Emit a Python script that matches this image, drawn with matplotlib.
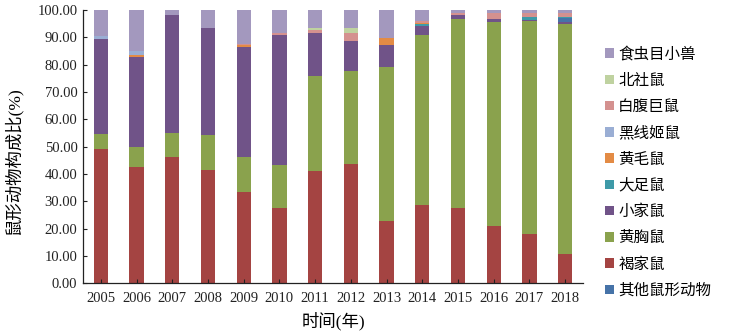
import matplotlib
matplotlib.use("Agg")
import matplotlib.pyplot as plt
import numpy as np
from matplotlib.patches import Patch

plt.rcParams['font.family'] = ['Liberation Serif', 'Noto Sans CJK SC']

years = ['2005', '2006', '2007', '2008', '2009', '2010', '2011',
         '2012', '2013', '2014', '2015', '2016', '2017', '2018']

brown_rat = [49.1, 42.5, 46.4, 41.5, 33.5, 27.6, 41.0, 43.7, 23.0, 28.6, 27.6, 21.0, 18.1, 10.8]
flavipectus = [5.4, 7.5, 8.7, 12.7, 12.6, 15.7, 34.9, 34.0, 56.3, 62.3, 69.1, 74.7, 78.0, 83.9]
house_mouse = [34.9, 32.9, 43.1, 39.1, 40.4, 47.6, 15.7, 11.1, 8.0, 3.4, 1.5, 0.9, 0.2, 1.0]
other_rodents = [0, 0, 0, 0, 0, 0, 0, 0, 0, 0, 0, 0, 0, 1.2]
nitidus = [0, 0, 0, 0, 0, 0, 0, 0, 0, 0.7, 0, 0, 1.1, 0.5]
losea = [0, 0.6, 0, 0, 0.6, 0, 0, 0, 2.4, 0.3, 0, 0, 0, 0]
agrarius = [1.2, 1.6, 0, 0, 0, 0, 0, 0, 0, 0, 0, 0, 0, 0]
edwardsi = [0, 0, 0, 0, 0.6, 0.8, 1.2, 2.9, 0, 0.8, 0.6, 2.2, 1.6, 1.6]
confucianus = [0, 0, 0, 0, 0, 0, 0.6, 1.8, 0, 0, 0, 0, 0, 0]
insectivores = [9.4, 14.9, 1.8, 6.7, 12.3, 8.3, 6.6, 6.5, 10.3, 3.9, 1.2, 1.2, 1.0, 1.0]

# stacking order bottom -> top
series = [
    ('褐家鼠', brown_rat, '#A44442'),
    ('黄胸鼠', flavipectus, '#8AA24D'),
    ('小家鼠', house_mouse, '#705388'),
    ('其他鼠形动物', other_rodents, '#4673A8'),
    ('大足鼠', nitidus, '#3E9AA8'),
    ('黄毛鼠', losea, '#E38B45'),
    ('黑线姬鼠', agrarius, '#9AAED4'),
    ('白腹巨鼠', edwardsi, '#D4918F'),
    ('北社鼠', confucianus, '#BFD2A0'),
    ('食虫目小兽', insectivores, '#A398BE'),
]
legend_order = ['食虫目小兽', '北社鼠', '白腹巨鼠', '黑线姬鼠', '黄毛鼠',
                '大足鼠', '小家鼠', '黄胸鼠', '褐家鼠', '其他鼠形动物']

fig = plt.figure(figsize=(7.32, 3.36), dpi=100)
ax = fig.add_axes([0.1134, 0.1563, 0.683, 0.8140])

x = np.arange(len(years))
bottom = np.zeros(len(years))
colors = {}
for name, vals, col in series:
    v = np.array(vals, dtype=float)
    ax.bar(x, v, width=0.4, bottom=bottom, color=col, linewidth=0)
    bottom += v
    colors[name] = col

ax.set_xlim(-0.5, len(years) - 0.5)
ax.set_ylim(0, 100)
ax.set_yticks(np.arange(0, 101, 10))
ax.set_yticklabels([f'{v:.2f}' for v in np.arange(0, 101, 10)], fontsize=10.5)
ax.set_xticks(x)
ax.set_xticklabels(years, fontsize=10.5)
ax.tick_params(axis='both', direction='in', length=3, width=0.8, colors='#222222')
ax.tick_params(axis='x', pad=6)
ax.tick_params(axis='y', pad=4)
for s in ['top', 'right']:
    ax.spines[s].set_visible(False)
for s in ['left', 'bottom']:
    ax.spines[s].set_color('#222222')
    ax.spines[s].set_linewidth(0.9)

ax.set_ylabel('鼠形动物构成比(%)', fontsize=12.5)
ax.yaxis.set_label_coords(-0.122, 0.45)
ax.set_xlabel('时间(年)', fontsize=12.5, labelpad=5)

handles = [Patch(facecolor=colors[n], edgecolor='none', label=n) for n in legend_order]
fig.legend(handles=handles, loc='upper left', bbox_to_anchor=(0.818, 0.880),
           frameon=False, fontsize=11.2, handlelength=0.55, handleheight=0.55,
           handletextpad=0.3, labelspacing=0.66, borderaxespad=0)

fig.savefig('out.png', dpi=100)
